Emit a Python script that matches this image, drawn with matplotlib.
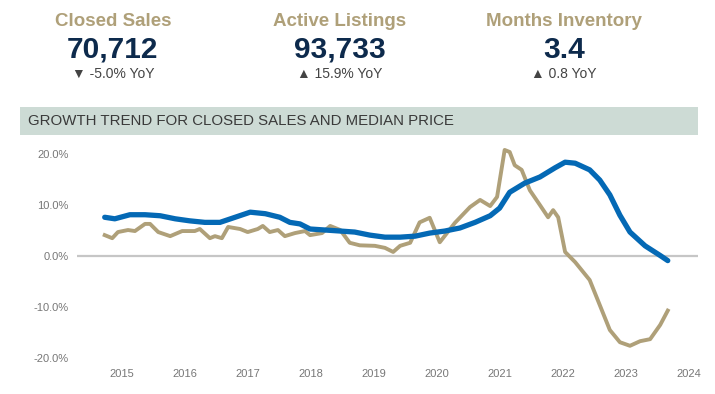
import matplotlib
matplotlib.use('Agg')
import matplotlib.pyplot as plt
from matplotlib.patches import Rectangle
from matplotlib.ticker import FuncFormatter

# KPI header
kpi_titles = ['Closed Sales', 'Active Listings', 'Months Inventory']
kpi_values = ['70,712', '93,733', '3.4']
kpi_changes = ['▼ -5.0% YoY', '▲ 15.9% YoY', '▲ 0.8 YoY']

# growth trend, decimal years
price_x = [2014.73, 2014.89, 2015.13, 2015.37, 2015.61, 2015.85, 2016.08, 2016.32,
           2016.56, 2016.80, 2017.04, 2017.28, 2017.51, 2017.67, 2017.83, 2017.99,
           2018.23, 2018.47, 2018.70, 2018.94, 2019.18, 2019.42, 2019.66, 2019.89,
           2020.13, 2020.37, 2020.61, 2020.85, 2021.00, 2021.16, 2021.40, 2021.64,
           2021.88, 2022.04, 2022.20, 2022.43, 2022.59, 2022.75, 2022.91, 2023.07,
           2023.31, 2023.55, 2023.67]
price_growth = [7.5, 7.2, 8.0, 8.0, 7.8, 7.2, 6.8, 6.5,
                6.5, 7.5, 8.5, 8.2, 7.5, 6.5, 6.2, 5.2,
                5.0, 4.8, 4.6, 4.0, 3.6, 3.6, 3.8, 4.4,
                4.8, 5.4, 6.5, 7.8, 9.3, 12.4, 14.2, 15.4,
                17.2, 18.3, 18.1, 16.8, 14.8, 11.9, 7.9, 4.6,
                1.9, 0.0, -1.0]

sales_x = [2014.73, 2014.85, 2014.94, 2015.10, 2015.21, 2015.37, 2015.45, 2015.58,
           2015.77, 2015.96, 2016.16, 2016.24, 2016.40, 2016.48, 2016.59, 2016.69,
           2016.88, 2017.00, 2017.16, 2017.24, 2017.35, 2017.48, 2017.59, 2017.75,
           2017.91, 2017.99, 2018.18, 2018.31, 2018.47, 2018.62, 2018.78, 2019.02,
           2019.18, 2019.31, 2019.42, 2019.58, 2019.73, 2019.89, 2020.05, 2020.29,
           2020.53, 2020.69, 2020.85, 2020.96, 2021.08, 2021.16, 2021.24, 2021.35,
           2021.48, 2021.64, 2021.77, 2021.85, 2021.93, 2022.04, 2022.20, 2022.43,
           2022.59, 2022.75, 2022.91, 2023.07, 2023.23, 2023.39, 2023.55, 2023.67]
sales_growth = [4.0, 3.4, 4.6, 5.0, 4.8, 6.2, 6.2, 4.6,
                3.8, 4.8, 4.8, 5.2, 3.4, 3.8, 3.4, 5.6,
                5.2, 4.6, 5.2, 5.8, 4.6, 5.0, 3.8, 4.4,
                4.8, 4.0, 4.4, 5.8, 5.0, 2.5, 2.0, 1.9,
                1.5, 0.7, 1.9, 2.5, 6.5, 7.4, 2.6, 6.4,
                9.5, 10.9, 9.7, 11.5, 20.7, 20.3, 17.7, 16.8,
                12.8, 9.9, 7.5, 8.9, 7.5, 0.7, -1.3, -4.8,
                -9.7, -14.6, -17.0, -17.7, -16.8, -16.4, -13.6, -10.8]

years = list(range(2015, 2025))
y_ticks = [20, 10, 0, -10, -20]

gold = '#AFA079'
blue = '#0469B5'
navy = '#0D2A4C'
font = ['Liberation Sans', 'DejaVu Sans']

fig = plt.figure(figsize=(7.15, 3.94), dpi=100)
fig.patch.set_facecolor('white')

kpi_x = [113 / 715, 340 / 715, 564 / 715]
for cx, t, v, c in zip(kpi_x, kpi_titles, kpi_values, kpi_changes):
    fig.text(cx, 1 - 21 / 394, t, ha='center', va='center', fontsize=13.5,
             fontweight='bold', color=gold, family=font)
    fig.text(cx, 1 - 50 / 394, v, ha='center', va='center', fontsize=21.5,
             fontweight='bold', color=navy, family=font)
    fig.text(cx, 1 - 74 / 394, c, ha='center', va='center', fontsize=10,
             color='#444444', family=font)

# section banner
fig.patches.append(Rectangle((20 / 715, 1 - 135 / 394), 678 / 715, 28 / 394,
                             transform=fig.transFigure, facecolor='#CDDBD5',
                             edgecolor='none'))
fig.text(28 / 715, 1 - 121 / 394, 'GROWTH TREND FOR CLOSED SALES AND MEDIAN PRICE',
         ha='left', va='center', fontsize=10.8, color='#3A3A3A',
         family='Liberation Sans')

ax = fig.add_axes([77 / 715, 0.0667, 621 / 715, 0.576])
ax.axhline(0, color='#C6C6C6', lw=1.6, zorder=1)
ax.plot(sales_x, sales_growth, color=gold, lw=2.8, solid_joinstyle='round', zorder=2)
ax.plot(price_x, price_growth, color=blue, lw=3.8, solid_capstyle='round', zorder=3)

ax.set_xlim(2014.29, 2024.15)
ax.set_ylim(-22, 22.5)
ax.set_xticks(years)
ax.set_yticks(y_ticks)
ax.yaxis.set_major_formatter(FuncFormatter(lambda v, p: f'{v:.1f}%'))
ax.tick_params(length=0, labelsize=8, labelcolor='#777777')
ax.tick_params(axis='y', pad=6)
ax.tick_params(axis='x', pad=1)
for lbl in ax.get_xticklabels() + ax.get_yticklabels():
    lbl.set_family('Liberation Sans')
for s in ax.spines.values():
    s.set_visible(False)

fig.savefig('out.png', dpi=100)
